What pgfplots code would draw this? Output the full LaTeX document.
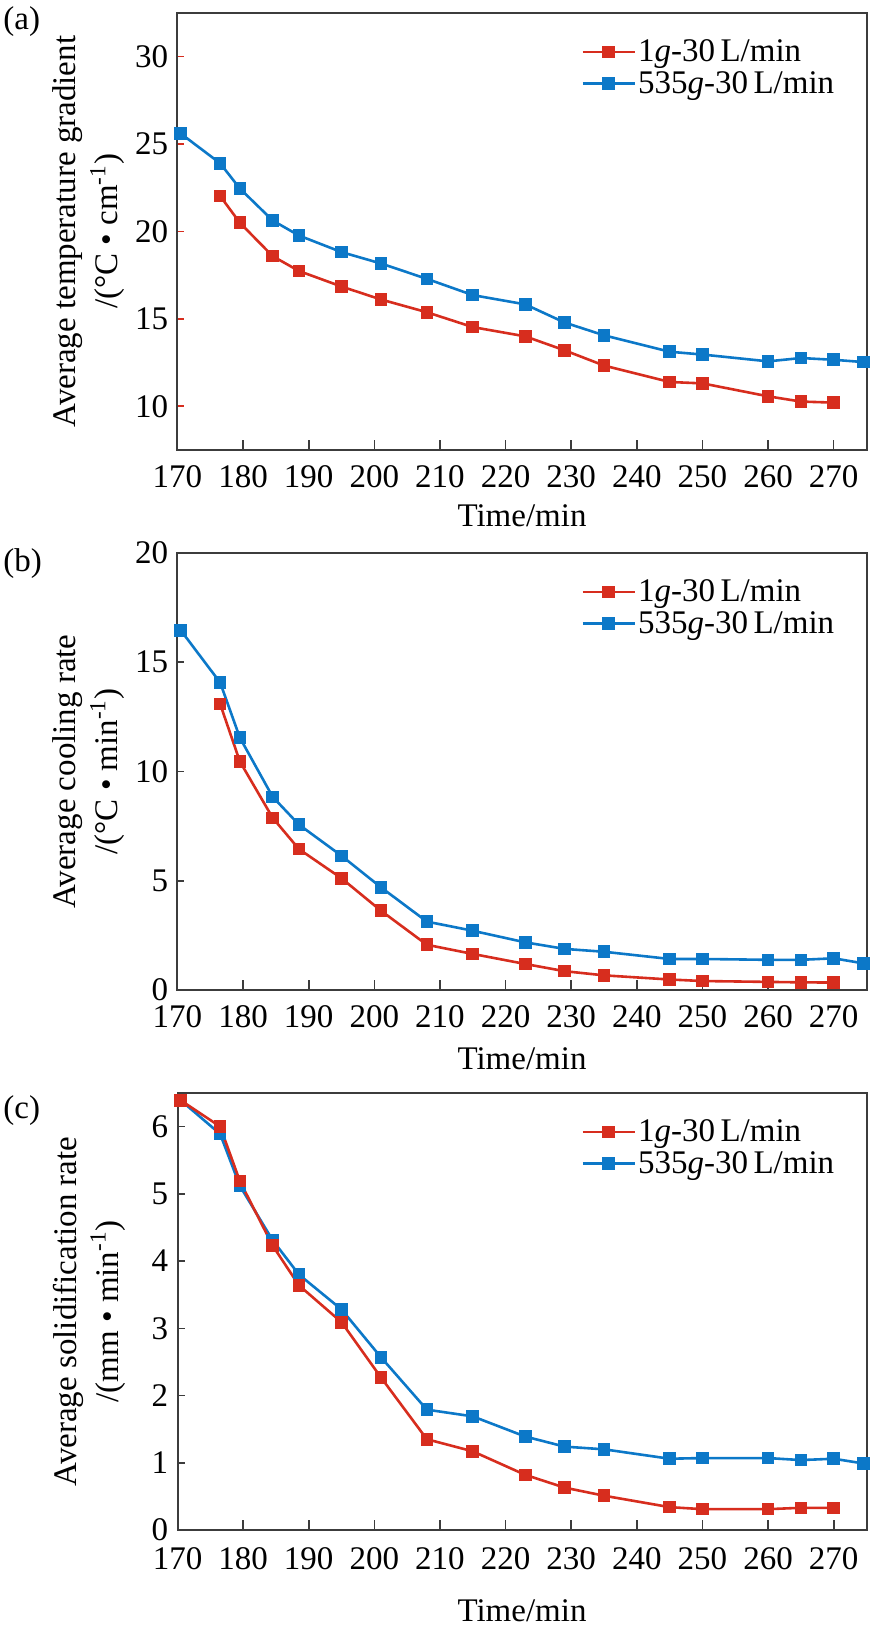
\documentclass[border=0pt]{standalone}
\usepackage{fontspec}
\setmainfont{Liberation Serif}
\usepackage{pgfplots}
\pgfplotsset{compat=1.18}
\definecolor{cred}{RGB}{215,45,30}
\definecolor{cblue}{RGB}{12,120,200}
\definecolor{axgray}{RGB}{60,60,60}

\pgfplotsset{
 panel/.style={
  width=344.5pt, height=218.5pt, scale only axis,
  xmin=170, xmax=275, xtick={170,180,...,270},
  axis line style={axgray, line width=1pt},
  tick align=inside, xtick pos=bottom, ytick pos=left,
  /pgf/number format/assume math mode=true,
  tick label style={font=\fontsize{16.5}{19}\selectfont, inner sep=0pt},
  xticklabel style={yshift=-7.5pt},
  yticklabel style={xshift=-4.5pt},
  label style={font=\fontsize{16.5}{21}\selectfont},
  xlabel={Time/min},
  xlabel style={at={(axis description cs:0.5,0)}, anchor=center, yshift=-33pt},
  ylabel style={at={(axis description cs:-0.1284,0.5)}, anchor=center, align=center},
  xtick style={axgray, line width=0.8pt, /pgfplots/major tick length=5pt},
  ytick style={axgray, line width=0.8pt, /pgfplots/major tick length=3.5pt},
  legend style={draw=none, fill=none, at={(0.577,1)}, anchor=north west, yshift=-10pt,
     font=\fontsize{16.5}{19}\selectfont, row sep=1.4pt, nodes={inner sep=1pt}},
  legend cell align=left,
  reverse legend,
  legend image code/.code={\draw[##1] (0pt,0pt) -- (26pt,0pt);
     \draw[##1, mark repeat=2, mark phase=2] plot coordinates {(0pt,0pt) (13pt,0pt) (26pt,0pt)};},
 },
 ser/.style={#1, mark options={fill=#1, draw=#1, solid}, line width=1.3pt, mark=square*, mark size=2.5pt},
}

\begin{document}
\begin{tikzpicture}
\path[use as bounding box] (0,0) rectangle (445pt,815.5pt);

% ---------------- (a)
\begin{axis}[panel, at={(88.75pt,590.5pt)}, anchor=south west,
  ymin=7.5, ymax=32.5, ytick={10,15,...,30},
  ytick style={cred, line width=0.8pt, /pgfplots/major tick length=3.5pt},
  ylabel={Average temperature gradient\\/(°C • cm\textsuperscript{-1})}]
\addplot[ser=cblue] coordinates {
(170.5,25.6) (176.5,23.9) (179.5,22.46) (184.5,20.63) (188.5,19.77) (195,18.82)
(201,18.17) (208,17.29) (215,16.36) (223,15.83) (229,14.79) (235,14.06)
(245,13.12) (250,12.96) (260,12.57) (265,12.76) (270,12.66) (274.5,12.53)};
\addlegendentry{535\textit{g}-30\,L/min}
\addplot[ser=cred] coordinates {
(176.5,22.03) (179.5,20.5) (184.5,18.59) (188.5,17.74) (195,16.85) (201,16.11)
(208,15.38) (215,14.53) (223,14.0) (229,13.2) (235,12.33) (245,11.39)
(250,11.31) (260,10.57) (265,10.27) (270,10.21)};
\addlegendentry{1\textit{g}-30\,L/min}
\end{axis}

% ---------------- (b)
\begin{axis}[panel, at={(88.75pt,320.5pt)}, anchor=south west,
  ymin=0, ymax=20, ytick={0,5,...,20},
  xlabel style={yshift=-1.5pt},
  ylabel={Average cooling rate\\/(°C • min\textsuperscript{-1})}]
\addplot[ser=cblue] coordinates {
(170.5,16.46) (176.5,14.07) (179.5,11.55) (184.5,8.84) (188.5,7.57) (195,6.14)
(201,4.70) (208,3.13) (215,2.71) (223,2.18) (229,1.88) (235,1.75)
(245,1.42) (250,1.42) (260,1.38) (265,1.38) (270,1.45) (274.5,1.22)};
\addlegendentry{535\textit{g}-30\,L/min}
\addplot[ser=cred] coordinates {
(176.5,13.09) (179.5,10.46) (184.5,7.88) (188.5,6.45) (195,5.11) (201,3.63)
(208,2.07) (215,1.65) (223,1.19) (229,0.86) (235,0.67) (245,0.48)
(250,0.41) (260,0.37) (265,0.35) (270,0.34)};
\addlegendentry{1\textit{g}-30\,L/min}
\end{axis}

% ---------------- (c)
\begin{axis}[panel, at={(88.75pt,50.5pt)}, anchor=south west,
  ymin=0, ymax=6.5, ytick={0,1,...,6},
  xticklabel style={yshift=-1.3pt},
  xlabel style={yshift=-7.5pt},
  ylabel={Average solidification rate\\/(mm • min\textsuperscript{-1})}]
\addplot[ser=cblue] coordinates {
(170.5,6.39) (176.5,5.89) (179.5,5.12) (184.5,4.31) (188.5,3.80) (195,3.28)
(201,2.57) (208,1.79) (215,1.69) (223,1.39) (229,1.24) (235,1.20)
(245,1.06) (250,1.07) (260,1.07) (265,1.04) (270,1.06) (274.5,0.99)};
\addlegendentry{535\textit{g}-30\,L/min}
\addplot[ser=cred] coordinates {
(170.5,6.39) (176.5,6.0) (179.5,5.19) (184.5,4.23) (188.5,3.64) (195,3.09)
(201,2.27) (208,1.35) (215,1.17) (223,0.82) (229,0.63) (235,0.51)
(245,0.34) (250,0.31) (260,0.31) (265,0.33) (270,0.33)};
\addlegendentry{1\textit{g}-30\,L/min}
\end{axis}

\node[anchor=west, inner sep=0pt, font=\fontsize{16.5}{19}\selectfont] at (1.5pt,804.5pt) {(a)};
\node[anchor=west, inner sep=0pt, font=\fontsize{16.5}{19}\selectfont] at (1.5pt,533.6pt) {(b)};
\node[anchor=west, inner sep=0pt, font=\fontsize{16.5}{19}\selectfont] at (1.5pt,260pt) {(c)};
\end{tikzpicture}
\end{document}
